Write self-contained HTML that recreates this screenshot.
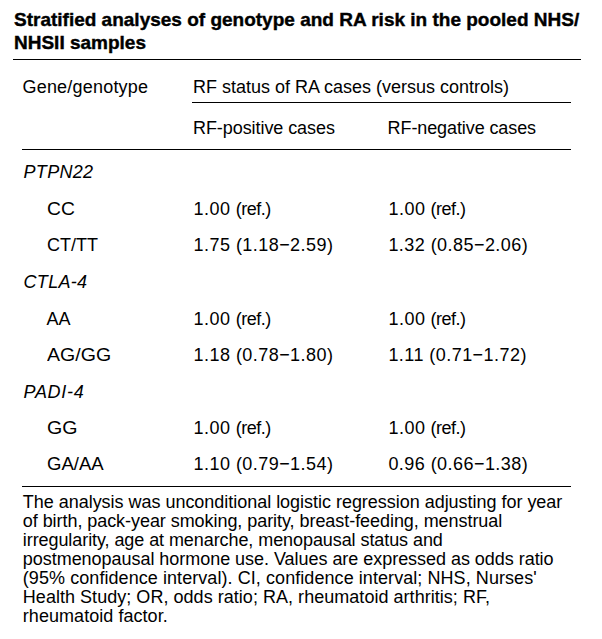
<!DOCTYPE html>
<html><head><meta charset="utf-8"><style>
html,body{margin:0;padding:0;background:#fff;}
body{width:602px;height:639px;position:relative;overflow:hidden;font-family:"Liberation Sans",sans-serif;color:#000;}
.t{position:absolute;white-space:nowrap;font-size:18px;line-height:20px;}
.t.b{font-weight:bold;-webkit-text-stroke:0.4px #000;font-size:19px;line-height:23px;}
.rule{position:absolute;background:#000;}
i{font-style:italic;}
</style></head><body>
<div class="rule" style="left:13px;top:58.6px;width:568px;height:1.4px"></div>
<div class="rule" style="left:192px;top:101.5px;width:379px;height:1.4px"></div>
<div class="rule" style="left:21.6px;top:148.5px;width:549.4px;height:1.4px"></div>
<div class="rule" style="left:22px;top:485.5px;width:549px;height:1.4px"></div>
<div class="t b" style="left:14.00px;top:7.52px">Stratified analyses of genotype and RA risk in the pooled NHS/</div>
<div class="t b" style="left:14.00px;top:30.52px">NHSII samples</div>
<div class="t r" style="left:22.50px;top:77.00px;letter-spacing:0.2px;transform:scale(1.0000,1.050);transform-origin:0 16px">Gene/genotype</div>
<div class="t r" style="left:193.00px;top:77.00px;transform:scale(1.0000,1.050);transform-origin:0 16px">RF status of RA cases (versus controls)</div>
<div class="t r" style="left:193.00px;top:118.00px;letter-spacing:-0.07px;transform:scale(1.0000,1.050);transform-origin:0 16px">RF-positive cases</div>
<div class="t r" style="left:387.60px;top:118.00px;letter-spacing:-0.1px;transform:scale(1.0000,1.050);transform-origin:0 16px">RF-negative cases</div>
<div class="t r" style="left:23.50px;top:162.00px;letter-spacing:0.32px;transform:scale(1.0000,1.050);transform-origin:0 16px"><i>PTPN22</i></div>
<div class="t r" style="left:47.10px;top:199.00px;transform:scale(1.0700,1.050);transform-origin:0 16px">CC</div>
<div class="t r" style="left:193.60px;top:199.00px;transform:scale(1.0000,1.050);transform-origin:0 16px"><span style="letter-spacing:0.5px">1.00</span> <span style="letter-spacing:-0.5px">(ref.)</span></div>
<div class="t r" style="left:388.40px;top:199.00px;transform:scale(1.0000,1.050);transform-origin:0 16px"><span style="letter-spacing:0.5px">1.00</span> <span style="letter-spacing:-0.5px">(ref.)</span></div>
<div class="t r" style="left:47.10px;top:235.00px;transform:scale(1.0000,1.050);transform-origin:0 16px">CT/TT</div>
<div class="t r" style="left:193.60px;top:235.00px;letter-spacing:0.45px;transform:scale(1.0000,1.050);transform-origin:0 16px">1.75 (1.18−2.59)</div>
<div class="t r" style="left:388.40px;top:235.00px;letter-spacing:0.45px;transform:scale(1.0000,1.050);transform-origin:0 16px">1.32 (0.85−2.06)</div>
<div class="t r" style="left:23.50px;top:272.00px;letter-spacing:0.32px;transform:scale(1.0000,1.050);transform-origin:0 16px"><i>CTLA-4</i></div>
<div class="t r" style="left:46.50px;top:309.00px;transform:scale(1.0000,1.050);transform-origin:0 16px">AA</div>
<div class="t r" style="left:193.60px;top:309.00px;transform:scale(1.0000,1.050);transform-origin:0 16px"><span style="letter-spacing:0.5px">1.00</span> <span style="letter-spacing:-0.5px">(ref.)</span></div>
<div class="t r" style="left:388.40px;top:309.00px;transform:scale(1.0000,1.050);transform-origin:0 16px"><span style="letter-spacing:0.5px">1.00</span> <span style="letter-spacing:-0.5px">(ref.)</span></div>
<div class="t r" style="left:46.50px;top:345.00px;transform:scale(1.0860,1.050);transform-origin:0 16px">AG/GG</div>
<div class="t r" style="left:193.60px;top:345.00px;letter-spacing:0.45px;transform:scale(1.0000,1.050);transform-origin:0 16px">1.18 (0.78−1.80)</div>
<div class="t r" style="left:388.40px;top:345.00px;letter-spacing:0.45px;transform:scale(1.0000,1.050);transform-origin:0 16px">1.11 (0.71−1.72)</div>
<div class="t r" style="left:23.50px;top:381.60px;letter-spacing:0.72px;transform:scale(1.0000,1.050);transform-origin:0 16px"><i>PADI-4</i></div>
<div class="t r" style="left:46.50px;top:417.60px;transform:scale(1.0900,1.050);transform-origin:0 16px">GG</div>
<div class="t r" style="left:193.60px;top:417.60px;transform:scale(1.0000,1.050);transform-origin:0 16px"><span style="letter-spacing:0.5px">1.00</span> <span style="letter-spacing:-0.5px">(ref.)</span></div>
<div class="t r" style="left:388.40px;top:417.60px;transform:scale(1.0000,1.050);transform-origin:0 16px"><span style="letter-spacing:0.5px">1.00</span> <span style="letter-spacing:-0.5px">(ref.)</span></div>
<div class="t r" style="left:46.50px;top:454.00px;transform:scale(1.0300,1.050);transform-origin:0 16px">GA/AA</div>
<div class="t r" style="left:193.60px;top:454.00px;letter-spacing:0.45px;transform:scale(1.0000,1.050);transform-origin:0 16px">1.10 (0.79−1.54)</div>
<div class="t r" style="left:388.40px;top:454.00px;letter-spacing:0.45px;transform:scale(1.0000,1.050);transform-origin:0 16px">0.96 (0.66−1.38)</div>
<div class="t r" style="left:22.80px;top:492.30px;letter-spacing:-0.026px;transform:scale(1.0000,1.050);transform-origin:0 16px">The analysis was unconditional logistic regression adjusting for year</div>
<div class="t r" style="left:22.80px;top:511.20px;letter-spacing:-0.056px;transform:scale(1.0000,1.050);transform-origin:0 16px">of birth, pack-year smoking, parity, breast-feeding, menstrual</div>
<div class="t r" style="left:22.80px;top:530.10px;letter-spacing:-0.076px;transform:scale(1.0000,1.050);transform-origin:0 16px">irregularity, age at menarche, menopausal status and</div>
<div class="t r" style="left:22.80px;top:549.00px;letter-spacing:-0.036px;transform:scale(1.0000,1.050);transform-origin:0 16px">postmenopausal hormone use. Values are expressed as odds ratio</div>
<div class="t r" style="left:22.80px;top:567.90px;letter-spacing:0.067px;transform:scale(1.0000,1.050);transform-origin:0 16px">(95% confidence interval). CI, confidence interval; NHS, Nurses'</div>
<div class="t r" style="left:22.80px;top:586.80px;letter-spacing:0.035px;transform:scale(1.0000,1.050);transform-origin:0 16px">Health Study; OR, odds ratio; RA, rheumatoid arthritis; RF,</div>
<div class="t r" style="left:22.80px;top:605.70px;letter-spacing:0.05px;transform:scale(1.0000,1.050);transform-origin:0 16px">rheumatoid factor.</div>
</body></html>
